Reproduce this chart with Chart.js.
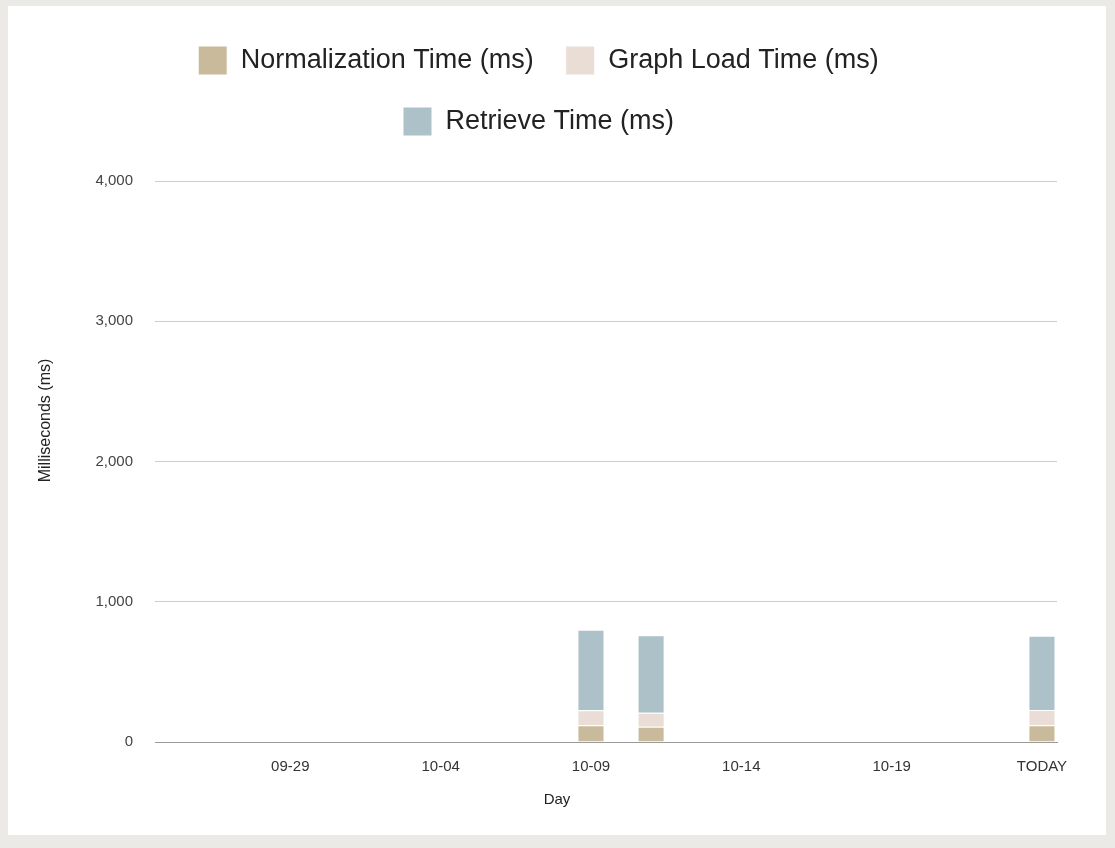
<!DOCTYPE html>
<html>
<head>
<meta charset="utf-8">
<script src="https://cdn.jsdelivr.net/npm/chart.js@4.4.1/dist/chart.umd.min.js"></script>
<style>
  html, body { margin: 0; padding: 0; background: #ebeae6; }
  #card {
    position: absolute; left: 8px; top: 6px;
    width: 1098px; height: 829px; background: #ffffff;
  }
</style>
</head>
<body>
<div id="card"><canvas id="chart"></canvas></div>
<script>
// ============================================================
// Data
// ============================================================
const DAYS = [
  '09-25','09-26','09-27','09-28','09-29','09-30',
  '10-01','10-02','10-03','10-04','10-05','10-06','10-07','10-08','10-09',
  '10-10','10-11','10-12','10-13','10-14','10-15','10-16','10-17','10-18',
  '10-19','10-20','10-21','10-22','10-23','TODAY',
];

const NORMALIZATION_MS = [0,0,0,0,0,0, 0,0,0,0,0,0,0,0,120, 0,108,0,0,0,0,0,0,0, 0,0,0,0,0,120];
const GRAPH_LOAD_MS    = [0,0,0,0,0,0, 0,0,0,0,0,0,0,0,106, 0,100,0,0,0,0,0,0,0, 0,0,0,0,0,108];
const RETRIEVE_MS      = [0,0,0,0,0,0, 0,0,0,0,0,0,0,0,575, 0,553,0,0,0,0,0,0,0, 0,0,0,0,0,530];

const Y_TICKS = [0, 1000, 2000, 3000, 4000];

const FONT = "'Liberation Sans', Arial, Helvetica, sans-serif";

// axis titles are centred on the whole card, not on the plot
const axisTitles = {
  id: 'axisTitles',
  afterDraw(chart) {
    const ctx = chart.ctx;
    ctx.save();
    ctx.fillStyle = '#222';
    ctx.textAlign = 'center';
    ctx.textBaseline = 'middle';
    ctx.font = `15px ${FONT}`;
    ctx.fillText('Day', chart.width / 2, 794);
    ctx.font = `16px ${FONT}`;
    ctx.translate(38, chart.height / 2);
    ctx.rotate(-Math.PI / 2);
    ctx.fillText('Milliseconds (ms)', 0, 0);
    ctx.restore();
  },
};

new Chart(document.getElementById('chart'), {
  type: 'bar',
  data: {
    labels: DAYS,
    datasets: [
      { label: 'Normalization Time (ms)', data: NORMALIZATION_MS, backgroundColor: '#c8ba9b' },
      { label: 'Graph Load Time (ms)',    data: GRAPH_LOAD_MS,    backgroundColor: '#e9ddd5' },
      { label: 'Retrieve Time (ms)',      data: RETRIEVE_MS,      backgroundColor: '#adc1c8' },
    ].map(ds => ({
      ...ds,
      borderColor: '#ffffff',
      borderWidth: 1,
      barPercentage: 0.9,
      categoryPercentage: 1.0,
    })),
  },
  options: {
    responsive: true,
    maintainAspectRatio: false,
    animation: false,
    layout: { padding: { top: 8, left: 12, right: 49, bottom: 0 } },
    plugins: {
      legend: {
        position: 'top',
        align: 'center',
        weight: 1000,
        labels: {
          boxWidth: 29,
          boxHeight: 29,
          padding: 32,
          color: '#222',
          font: { size: 27, family: FONT },
        },
      },
      // empty title used as a spacer between legend and plot
      title: {
        display: true,
        text: '',
        weight: 500,
        font: { size: 10 },
        padding: { top: 0, bottom: 23 },
      },
    },
    scales: {
      x: {
        stacked: true,
        grid: { display: false, drawTicks: false },
        border: { color: '#9a9a9a' },
        ticks: {
          autoSkip: false,
          maxRotation: 0,
          padding: 16,
          color: '#333',
          font: { size: 15, family: FONT },
          callback: (v, i) => (i % 5 === 4 ? DAYS[i] : ''),
        },
        afterFit: s => { s.height = 93; },
      },
      y: {
        stacked: true,
        min: Y_TICKS[0],
        max: Y_TICKS[Y_TICKS.length - 1],
        grid: { color: '#cccccc', drawTicks: false },
        border: { display: false },
        ticks: {
          stepSize: Y_TICKS[1] - Y_TICKS[0],
          padding: 22,
          color: '#444',
          font: { size: 15, family: FONT },
          callback: v => v.toLocaleString('en-US'),
        },
        afterFit: s => { s.width = 135; },
      },
    },
  },
  plugins: [axisTitles],
});
</script>
</body>
</html>
